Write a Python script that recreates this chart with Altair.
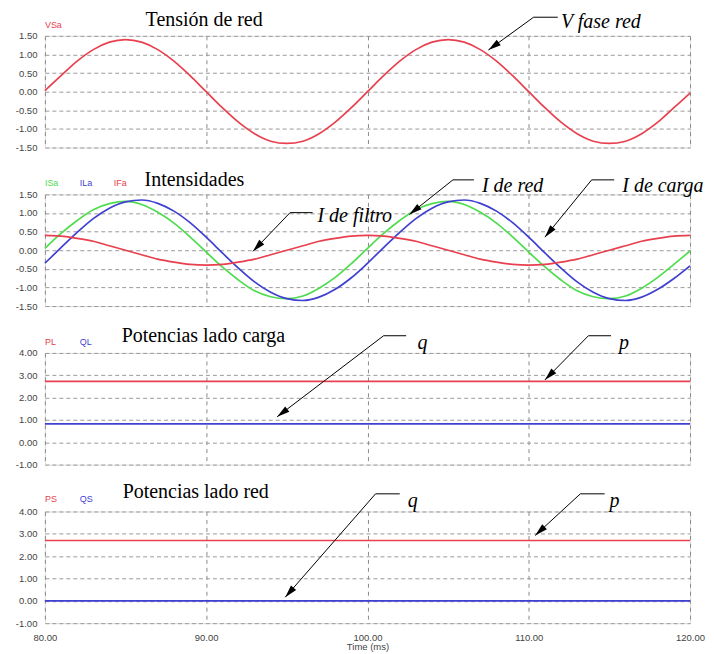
import math
import altair as alt
import pandas as pd

# ---------------- data ----------------
TIME_MS = [80, 81, 82, 83, 84, 85, 86, 87, 88, 89, 90, 91, 92, 93, 94, 95, 96, 97, 98, 99,
           100, 101, 102, 103, 104, 105, 106, 107, 108, 109, 110, 111, 112, 113, 114, 115,
           116, 117, 118, 119, 120]

VSA = [0.03, 0.43, 0.82, 1.13, 1.33, 1.40, 1.33, 1.13, 0.82, 0.43, 0.00, -0.43, -0.82, -1.13,
       -1.33, -1.39, -1.33, -1.13, -0.82, -0.43, 0.00, 0.43, 0.82, 1.13, 1.33, 1.40, 1.33,
       1.13, 0.82, 0.43, 0.00, -0.43, -0.82, -1.13, -1.33, -1.39, -1.33, -1.13, -0.82, -0.43,
       -0.04]

ISA = [0.05, 0.45, 0.80, 1.09, 1.25, 1.31, 1.23, 1.02, 0.73, 0.36, -0.05, -0.45, -0.80, -1.09,
       -1.25, -1.30, -1.23, -1.02, -0.73, -0.36, 0.05, 0.45, 0.80, 1.09, 1.25, 1.31, 1.23,
       1.02, 0.73, 0.36, -0.05, -0.45, -0.80, -1.09, -1.25, -1.30, -1.23, -1.02, -0.73, -0.38,
       -0.02]

ILA = [-0.35, 0.07, 0.48, 0.85, 1.13, 1.30, 1.35, 1.26, 1.05, 0.74, 0.35, -0.07, -0.48, -0.85,
       -1.13, -1.30, -1.35, -1.26, -1.05, -0.74, -0.35, 0.07, 0.48, 0.85, 1.13, 1.30, 1.35,
       1.26, 1.05, 0.74, 0.35, -0.07, -0.48, -0.85, -1.13, -1.30, -1.35, -1.26, -1.05, -0.76,
       -0.42]

IFA = [0.40, 0.38, 0.32, 0.24, 0.12, 0.00, -0.12, -0.24, -0.32, -0.38, -0.40, -0.38, -0.32,
       -0.24, -0.12, 0.00, 0.12, 0.24, 0.32, 0.38, 0.40, 0.38, 0.32, 0.24, 0.12, 0.00, -0.12,
       -0.24, -0.32, -0.38, -0.40, -0.38, -0.32, -0.24, -0.12, 0.00, 0.12, 0.24, 0.32, 0.38,
       0.40]

POWER_T = [80, 120]
PL = [2.73, 2.73]
QL = [0.82, 0.82]
PS = [2.70, 2.70]
QS = [0.00, 0.00]

PANEL_TITLES = ["Tensión de red", "Intensidades", "Potencias lado carga", "Potencias lado red"]
PANEL_SERIES = [["VSa"], ["ISa", "ILa", "IFa"], ["PL", "QL"], ["PS", "QS"]]
PANEL_Y_DOMAIN = [[-1.5, 1.5], [-1.5, 1.5], [-1.0, 4.0], [-1.0, 4.0]]
PANEL_Y_TICKS = [[-1.5, -1.0, -0.5, 0.0, 0.5, 1.0, 1.5],
                 [-1.5, -1.0, -0.5, 0.0, 0.5, 1.0, 1.5],
                 [-1.0, 0.0, 1.0, 2.0, 3.0, 4.0],
                 [-1.0, 0.0, 1.0, 2.0, 3.0, 4.0]]
X_TICKS = [80, 90, 100, 110, 120]

SERIES_NAMES = ["VSa", "ISa", "ILa", "IFa", "PL", "QL", "PS", "QS"]
SERIES_COLORS = ["#e8404e", "#4fdc4f", "#3f3fd2", "#e8404e", "#e8404e", "#3f3fd2", "#e8404e", "#3f3fd2"]

# annotations (data coordinates: time in ms, value in panel units)
ANN_PANEL = [0, 1, 1, 1, 2, 2, 3, 3]
ANN_TEXT = ["V fase red", "I de filtro", "I de red", "I de carga", "q", "p", "q", "p"]
ANN_TEXT_T = [112.0, 96.9, 107.1, 115.8, 103.1, 115.6, 102.5, 115.0]
ANN_TEXT_V = [1.86, 0.91, 1.72, 1.72, 4.45, 4.45, 4.49, 4.49]
ANN_ELBOW_T = [110.3, 95.2, 105.3, 113.9, 101.0, 113.7, 100.5, 113.2]
ANN_SEG_END_T = [111.8, 96.6, 106.6, 115.3, 102.4, 115.1, 102.0, 114.7]
ANN_SEG_V = [2.00, 1.01, 1.89, 1.89, 4.77, 4.77, 4.79, 4.79]
ANN_TIP_T = [107.5, 92.9, 102.6, 111.0, 94.4, 111.0, 94.9, 110.4]
ANN_TIP_V = [1.12, -0.03, 0.96, 0.35, 1.14, 2.79, 0.16, 2.93]

# ---------------- layout / style ----------------
W, H = 647, 112
TITLE_DX = [101, 100, 77, 78]
TITLE_DY = [-10, -8, -11, -14]
LEGEND_DX = [0, 35, 69]
LEGEND_DY = [-11, -11, -11, -13]
SERIF = "Liberation Serif"
SANS = "Liberation Sans"
ARROW_PATH = "M0,0L0.27,1L-0.27,1Z"

series_values = {"VSa": (TIME_MS, VSA), "ISa": (TIME_MS, ISA), "ILa": (TIME_MS, ILA),
                 "IFa": (TIME_MS, IFA), "PL": (POWER_T, PL), "QL": (POWER_T, QL),
                 "PS": (POWER_T, PS), "QS": (POWER_T, QS)}
color_of = dict(zip(SERIES_NAMES, SERIES_COLORS))
color_scale = alt.Scale(domain=SERIES_NAMES, range=SERIES_COLORS)

y_label_expr = "(datum.value < 0 ? '-' : '') + format(abs(datum.value), '.2f')"


def make_panel(i):
    ymin, ymax = PANEL_Y_DOMAIN[i]
    last = i == 3
    x_axis = alt.Axis(values=X_TICKS, grid=True, gridDash=[4, 4], gridColor="#8a8a8a",
                      gridWidth=1, domain=False, ticks=False,
                      labels=last, labelFlush=False, labelPadding=9,
                      labelExpr="format(datum.value, '.2f')", labelFontSize=9.5,
                      labelColor="#444444", labelFont=SANS,
                      title="Time (ms)" if last else None,
                      titleFontSize=9.5, titleFontWeight="normal", titleColor="#444444",
                      titleFont=SANS, titlePadding=0)
    y_axis = alt.Axis(values=PANEL_Y_TICKS[i], grid=True, gridDash=[4, 3], gridColor="#9a9a9a",
                      gridWidth=1, domain=False, ticks=False, labelPadding=8,
                      labelExpr=y_label_expr, labelFontSize=9.5, labelColor="#444444",
                      labelFont=SANS, title=None)
    xs = alt.Scale(domain=[80, 120], nice=False, zero=False)
    ys = alt.Scale(domain=[ymin, ymax], nice=False, zero=False)
    xenc = alt.X("t:Q", scale=xs, axis=x_axis)
    yenc = alt.Y("v:Q", scale=ys, axis=y_axis)

    rows = []
    for name in PANEL_SERIES[i]:
        ts, vs = series_values[name]
        for t, v in zip(ts, vs):
            rows.append({"t": t, "v": v, "s": name})
    df = pd.DataFrame(rows)
    lines = alt.Chart(df).mark_line(interpolate="monotone", strokeWidth=1.7).encode(
        x=xenc, y=yenc, color=alt.Color("s:N", scale=color_scale, legend=None))

    layers = [lines]

    # annotations
    xpx = W / 40.0
    ypx = H / (ymax - ymin)
    seg_rows, txt_rows, head_rows = [], [], []
    for k, p in enumerate(ANN_PANEL):
        if p != i:
            continue
        seg_rows.append({"t": ANN_ELBOW_T[k], "t2": ANN_SEG_END_T[k],
                         "v": ANN_SEG_V[k], "v2": ANN_SEG_V[k]})
        seg_rows.append({"t": ANN_ELBOW_T[k], "t2": ANN_TIP_T[k],
                         "v": ANN_SEG_V[k], "v2": ANN_TIP_V[k]})
        txt_rows.append({"t": ANN_TEXT_T[k], "v": ANN_TEXT_V[k], "label": ANN_TEXT[k]})
        dx = (ANN_TIP_T[k] - ANN_ELBOW_T[k]) * xpx
        dy = -(ANN_TIP_V[k] - ANN_SEG_V[k]) * ypx
        ang = math.degrees(math.atan2(dx, -dy)) % 360
        head_rows.append({"t": ANN_TIP_T[k], "v": ANN_TIP_V[k], "ang": ang})

    segs = alt.Chart(pd.DataFrame(seg_rows)).mark_rule(color="black", strokeWidth=1).encode(
        x=xenc, x2="t2:Q", y=yenc, y2="v2:Q")
    heads = alt.Chart(pd.DataFrame(head_rows)).mark_point(
        shape=ARROW_PATH, filled=True, color="black", opacity=1, size=650, strokeWidth=0).encode(
        x=xenc, y=yenc, angle=alt.Angle("ang:Q", scale=None))
    texts = alt.Chart(pd.DataFrame(txt_rows)).mark_text(
        align="left", baseline="middle", font=SERIF, fontSize=20, fontStyle="italic",
        color="black").encode(x=xenc, y=yenc, text="label:N")
    layers += [segs, heads, texts]

    # panel title
    title = alt.Chart(pd.DataFrame({"label": [PANEL_TITLES[i]]})).mark_text(
        align="left", baseline="alphabetic", font=SERIF, fontSize=20, color="black").encode(
        x=alt.value(TITLE_DX[i]), y=alt.value(TITLE_DY[i]), text="label:N")
    layers.append(title)

    # colored series labels
    for j, name in enumerate(PANEL_SERIES[i]):
        lab = alt.Chart(pd.DataFrame({"label": [name]})).mark_text(
            align="left", baseline="middle", font=SANS, fontSize=9, color=color_of[name]).encode(
            x=alt.value(LEGEND_DX[j]), y=alt.value(LEGEND_DY[i]), text="label:N")
        layers.append(lab)

    return alt.layer(*layers).properties(width=W, height=H)


panels = [make_panel(i) for i in range(4)]

chart = alt.vconcat(*panels, spacing=47, bounds="flush").resolve_scale(
    y="independent").properties(
    padding={"left": 6, "top": 0, "right": 0, "bottom": 0}).configure_view(
    stroke="#a6a6a6", strokeWidth=2).configure(background="white")

chart.save("out.html", embed_options={"renderer": "svg", "actions": False})
